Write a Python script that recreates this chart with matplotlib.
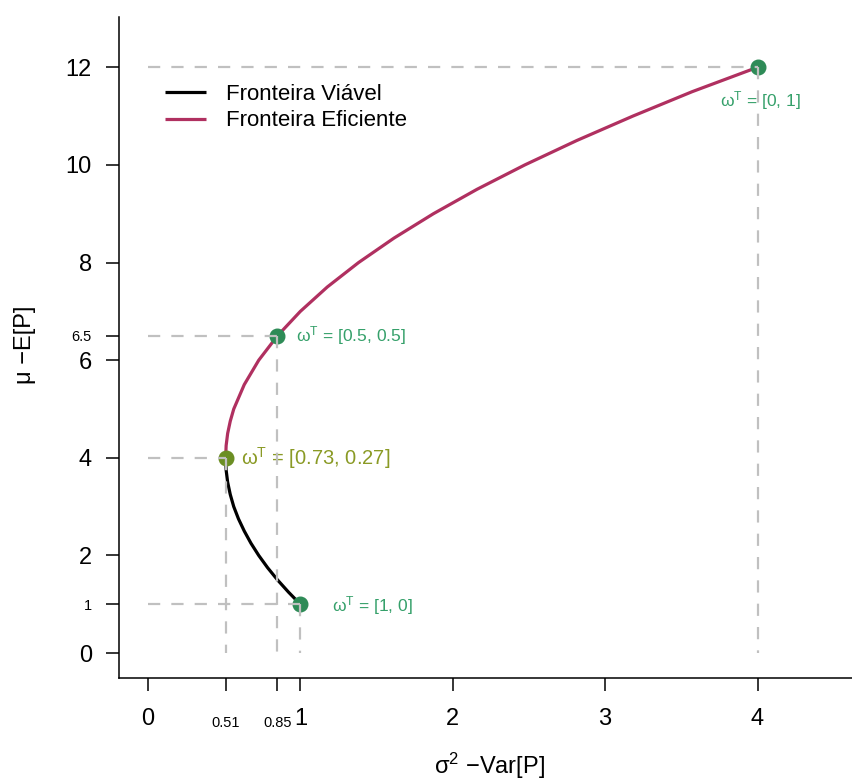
import matplotlib
matplotlib.use("Agg")
import matplotlib.pyplot as plt
from matplotlib.ticker import FixedLocator, FixedFormatter

plt.rcParams['font.family'] = ['Liberation Sans', 'DejaVu Sans']
plt.rcParams['mathtext.fontset'] = 'custom'
plt.rcParams['mathtext.rm'] = 'Liberation Sans'
plt.rcParams['mathtext.it'] = 'Liberation Sans:italic'
plt.rcParams['mathtext.bf'] = 'Liberation Sans:bold'

# Feasible frontier (variance, mean)
feas_mu = [1.0, 1.25, 1.5, 1.75, 2.0, 2.25, 2.5, 2.75, 3.0, 3.25, 3.5, 3.75, 4.0]
feas_var = [1.0, 0.922, 0.85, 0.785, 0.727, 0.676, 0.632, 0.594, 0.563, 0.54, 0.523, 0.513, 0.51]

# Efficient frontier
eff_mu = [4.0, 4.25, 4.5, 4.75, 5.0, 5.5, 6.0, 6.5, 7.0, 7.5, 8.0, 8.5, 9.0,
          9.5, 10.0, 10.5, 11.0, 11.5, 12.0]
eff_var = [0.51, 0.513, 0.523, 0.54, 0.563, 0.632, 0.727, 0.85, 1.0, 1.177, 1.382,
           1.614, 1.873, 2.159, 2.473, 2.814, 3.182, 3.571, 4.0]

# Highlighted portfolios
pt_var = [4.0, 0.85, 0.51, 1.0]
pt_mu = [12.0, 6.5, 4.0, 1.0]
pt_labels = ["[0, 1]", "[0.5, 0.5]", "[0.73, 0.27]", "[1, 0]"]

x_major = [0, 1, 2, 3, 4]
x_minor = [0.51, 0.85]
y_major = [0, 2, 4, 6, 8, 10, 12]
y_minor = [1, 6.5]

maroon = '#b03060'
seagreen = '#2e8b57'
olive = '#6b8e23'
seagreen_txt = '#35a06a'
olive_txt = '#8a9a25'
gray = '#c0c0c0'

fig = plt.figure(figsize=(8.52, 7.83), dpi=100)
ax = fig.add_axes([119/852, 105/783, (852-119)/852, (678-17)/783])
ax.set_xlim(-0.19, 4.62)
ax.set_ylim(-0.51, 13.03)

for s in ['top', 'right']:
    ax.spines[s].set_visible(False)
for s in ['left', 'bottom']:
    ax.spines[s].set_linewidth(1.1)

# curves
ax.plot(feas_var, feas_mu, color='black', lw=2.3, label='Fronteira Viável', zorder=2,
        solid_capstyle='butt')
ax.plot(eff_var, eff_mu, color=maroon, lw=2.3, label='Fronteira Eficiente', zorder=2,
        solid_capstyle='butt')

# points
pt_colors = [seagreen, seagreen, olive, seagreen]
for v, m, c in zip(pt_var, pt_mu, pt_colors):
    ax.plot([v], [m], marker='o', ms=10.5, color=c, mec=c, zorder=3, ls='none')

# dashed guide lines
for v, m in zip(pt_var, pt_mu):
    ax.plot([0, v], [m, m], color=gray, lw=1.6, dashes=(5.5, 5), zorder=4)
    ax.plot([v, v], [m, 0], color=gray, lw=1.6, dashes=(5.5, 5), zorder=4)

narrow = ['Liberation Sans Narrow', 'Liberation Sans', 'DejaVu Sans']

def wlabel(txt):
    return "ω$^{\\mathrm{T}}$ = " + txt

# labels
ax.annotate(wlabel(pt_labels[0]), (pt_var[0], pt_mu[0]), xytext=(2, -16),
            textcoords='offset points', ha='center', va='top', color=seagreen_txt,
            fontsize=12.5, family=narrow)
ax.annotate(wlabel(pt_labels[1]), (pt_var[1], pt_mu[1]), xytext=(13, 0),
            textcoords='offset points', ha='left', va='center', color=seagreen_txt,
            fontsize=12.5, family=narrow)
ax.annotate(wlabel(pt_labels[2]), (pt_var[2], pt_mu[2]), xytext=(11, 0),
            textcoords='offset points', ha='left', va='center', color=olive_txt,
            fontsize=14.5, family=narrow)
ax.annotate(wlabel(pt_labels[3]), (pt_var[3], pt_mu[3]), xytext=(23, -1),
            textcoords='offset points', ha='left', va='center', color=seagreen_txt,
            fontsize=12.5, family=narrow)

# ticks
ax.xaxis.set_major_locator(FixedLocator(x_major))
ax.xaxis.set_major_formatter(FixedFormatter([str(v) for v in x_major]))
ax.xaxis.set_minor_locator(FixedLocator(x_minor))
ax.xaxis.set_minor_formatter(FixedFormatter([str(v) for v in x_minor]))
ax.yaxis.set_major_locator(FixedLocator(y_major))
ax.yaxis.set_major_formatter(FixedFormatter([str(v) for v in y_major]))
ax.yaxis.set_minor_locator(FixedLocator(y_minor))
ax.yaxis.set_minor_formatter(FixedFormatter([str(v) for v in y_minor]))

ax.tick_params(axis='x', which='major', length=9, width=1.1, labelsize=17, pad=12.5)
ax.tick_params(axis='x', which='minor', length=9, width=1.1, labelsize=10.5, pad=18.5)
ax.tick_params(axis='y', which='major', length=9.5, width=1.1, labelsize=17, pad=10)
ax.tick_params(axis='y', which='minor', length=9.5, width=1.1, labelsize=10.5, pad=10)

# axis labels
fig.text(489/852, 1 - 774/783, "σ$^{2}$ −Var[P]", ha='center', va='baseline', fontsize=17)
fig.text(25/852, 1 - 345/783, "μ −E[P]", ha='center', va='center', rotation=90, fontsize=17)

leg = ax.legend(loc='upper left', bbox_to_anchor=(0.063, 0.899), frameon=False,
                fontsize=16, handlelength=1.85, handletextpad=0.9, labelspacing=0.25,
                borderpad=0, borderaxespad=0)

fig.savefig('out.png', dpi=100)
